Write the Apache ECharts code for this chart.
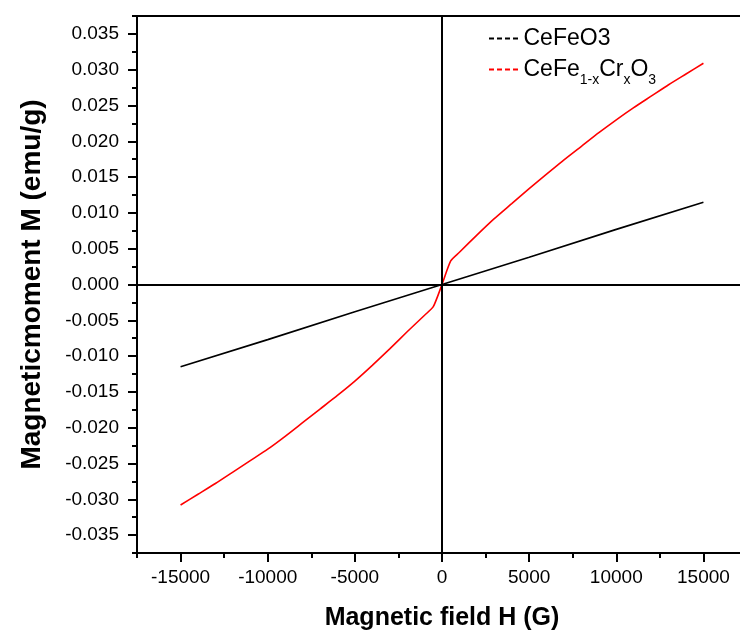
<!DOCTYPE html>
<html>
<head>
<meta charset="utf-8">
<script src="https://cdn.jsdelivr.net/npm/echarts@6/dist/echarts.min.js"></script>
<style>
html, body { margin: 0; padding: 0; background: #fff; }
#chart { width: 740px; height: 634px; }
</style>
</head>
<body>
<div id="chart"></div>
<script>
// CeFeO3 (straight line)
var fieldPure = [-15000, -10000, -5000, 0, 5000, 10000, 15000];
var momentPure = [-0.0115, -0.0077, -0.0038, 0, 0.0038, 0.0077, 0.0115];

// CeFe1-xCrxO3
var fieldCr = [-15000, -14000, -13000, -12000, -11000, -10000, -9000, -8000, -7000, -6000, -5000,
  -4000, -3000, -2000, -1000, -500, 0, 500, 1000, 2000, 3000, 4000, 5000, 6000, 7000, 8000,
  9000, 10000, 11000, 12000, 13000, 14000, 15000];
var momentCr = [-0.0308, -0.0293, -0.0278, -0.0262, -0.0246, -0.0230, -0.0212, -0.0193, -0.0174, -0.0155, -0.0135,
  -0.0113, -0.0090, -0.0066, -0.0043, -0.0031, 0, 0.0033, 0.0045, 0.0069, 0.0092, 0.0113, 0.0134, 0.0154, 0.0174, 0.0193,
  0.0212, 0.0230, 0.0247, 0.0263, 0.0279, 0.0294, 0.0309];

var xMajorTicks = [-15000, -10000, -5000, 0, 5000, 10000, 15000];
var xMinorTicks = [-17500, -12500, -7500, -2500, 2500, 7500, 12500, 17500];
var yMajorTicks = [-0.035, -0.03, -0.025, -0.02, -0.015, -0.01, -0.005, 0, 0.005, 0.01, 0.015, 0.02, 0.025, 0.03, 0.035];
var yMinorTicks = [-0.0375, -0.0325, -0.0275, -0.0225, -0.0175, -0.0125, -0.0075, -0.0025,
  0.0025, 0.0075, 0.0125, 0.0175, 0.0225, 0.0275, 0.0325, 0.0375];

var seriesNames = ['CeFeO3', 'CeFe1-xCrxO3'];

function pairs(xs, ys) {
  var out = [];
  for (var i = 0; i < xs.length; i++) out.push([xs[i], ys[i]]);
  return out;
}

var font = 'Liberation Sans, Arial, sans-serif';
var dashIcon = 'path://M0,0h5v2h-5zM8,0h5v2h-5zM16,0h5v2h-5zM24,0h5v2h-5z';

var chart = echarts.init(document.getElementById('chart'));
chart.setOption({
  animation: false,
  backgroundColor: '#fff',
  textStyle: { fontFamily: font },
  grid: { left: 137, right: -7, top: 16, bottom: 81, containLabel: false, outerBoundsMode: 'none' },
  legend: {
    left: 484,
    top: 22,
    orient: 'vertical',
    itemWidth: 30,
    itemHeight: 2,
    itemGap: 8,
    data: [
      { name: seriesNames[0], icon: dashIcon },
      { name: seriesNames[1], icon: dashIcon }
    ],
    formatter: function (name) {
      if (name === seriesNames[0]) return '{n|CeFeO3}';
      return '{n|CeFe}{s|1-x}{n|Cr}{s|x}{n|O}{s|3}';
    },
    textStyle: {
      rich: {
        n: { fontSize: 23, fontFamily: font, color: '#000', lineHeight: 26, verticalAlign: 'middle' },
        s: { fontSize: 14, fontFamily: font, color: '#000', lineHeight: 26, verticalAlign: 'bottom', padding: [0, 0, -5, 0] }
      }
    }
  },
  xAxis: [
    {
      type: 'value', position: 'bottom', min: -17500, max: 17500,
      name: 'Magnetic field H (G)', nameLocation: 'middle', nameGap: 53,
      nameTextStyle: { fontSize: 25, fontWeight: 'bold', color: '#000', fontFamily: font },
      axisLine: { onZero: false, lineStyle: { color: '#000', width: 2 } },
      axisTick: { customValues: xMajorTicks, length: 9, lineStyle: { color: '#000', width: 2 } },
      axisLabel: {
        customValues: xMajorTicks, fontSize: 19, color: '#000', margin: 15,
        formatter: function (v) { return String(v); }
      },
      splitLine: { show: false }
    },
    {
      type: 'value', position: 'bottom', min: -17500, max: 17500,
      axisLine: { show: false, onZero: false },
      axisTick: { customValues: xMinorTicks, length: 5, lineStyle: { color: '#000', width: 2 } },
      axisLabel: { show: false },
      splitLine: { show: false }
    },
    {
      type: 'value', position: 'top', min: -17500, max: 17500,
      axisLine: { onZero: false, lineStyle: { color: '#000', width: 2 } },
      axisTick: { show: false },
      axisLabel: { show: false },
      splitLine: { show: false }
    }
  ],
  yAxis: [
    {
      type: 'value', position: 'left', min: -0.0375, max: 0.0375,
      name: 'Magneticmoment M (emu/g)', nameLocation: 'middle', nameGap: 91,
      nameTextStyle: { fontSize: 28, fontWeight: 'bold', color: '#000', fontFamily: font },
      axisLine: { onZero: false, lineStyle: { color: '#000', width: 2 } },
      axisTick: { customValues: yMajorTicks, length: 9, lineStyle: { color: '#000', width: 2 } },
      axisLabel: {
        customValues: yMajorTicks, fontSize: 19, color: '#000', margin: 18,
        formatter: function (v) { return v.toFixed(3); }
      },
      splitLine: { show: false }
    },
    {
      type: 'value', position: 'left', min: -0.0375, max: 0.0375,
      axisLine: { show: false, onZero: false },
      axisTick: { customValues: yMinorTicks, length: 5, lineStyle: { color: '#000', width: 2 } },
      axisLabel: { show: false },
      splitLine: { show: false }
    }
  ],
  series: [
    {
      name: seriesNames[0],
      type: 'line',
      symbol: 'none',
      color: '#000',
      lineStyle: { color: '#000', width: 1.6 },
      data: pairs(fieldPure, momentPure),
      markLine: {
        silent: true,
        symbol: 'none',
        label: { show: false },
        lineStyle: { color: '#000', width: 2, type: 'solid' },
        data: [{ xAxis: 0 }, { yAxis: 0 }]
      }
    },
    {
      name: seriesNames[1],
      type: 'line',
      symbol: 'none',
      smooth: 0.2,
      color: '#ff0000',
      lineStyle: { color: '#ff0000', width: 1.6 },
      data: pairs(fieldCr, momentCr)
    }
  ]
});
</script>
</body>
</html>
